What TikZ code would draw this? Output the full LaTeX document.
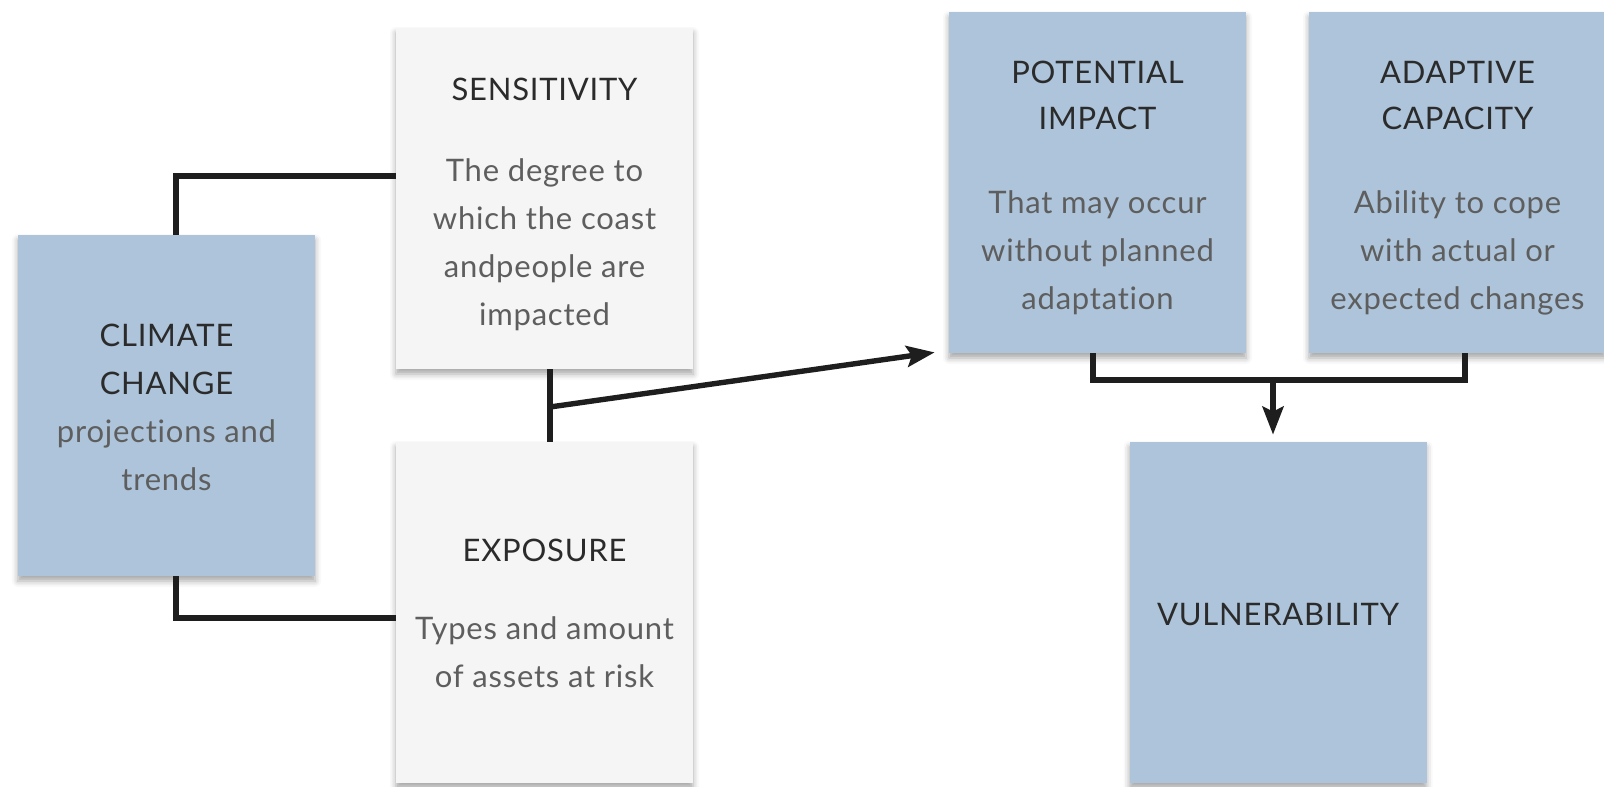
\documentclass[tikz,border=0pt]{standalone}
\usepackage{fontspec}
\setmainfont{Lato}[Ligatures=NoCommon, LetterSpace=2.5]
\usetikzlibrary{arrows.meta,calc,shadows.blur}
\definecolor{boxblue}{HTML}{ADC4DA}
\definecolor{boxgrey}{HTML}{F5F5F5}
\definecolor{ttlcol}{HTML}{2B2B2B}
\definecolor{txtcol}{HTML}{5E5E5E}
\definecolor{linecol}{HTML}{1E1E1E}
% heading text; the optional strut lowers a text block inside its card
\newcommand\hd[1]{\textcolor{ttlcol}{#1}}
\newcommand\lift[1]{\rule{0pt}{#1}}

\begin{document}
\begin{tikzpicture}[x=0.5pt,y=-0.5pt,
  card/.style={minimum width=148.5pt, minimum height=170.5pt, inner sep=0pt,
    align=center, text=txtcol, font=\fontsize{15.5}{24}\selectfont,
    blur shadow={shadow xshift=0pt, shadow yshift=-2.5pt,
      shadow blur radius=3pt, shadow opacity=35}},
  bluecard/.style={card, fill=boxblue},
  greycard/.style={card, fill=boxgrey},
  conn/.style={draw=linecol, line width=2.7pt},
  arr/.style={conn, -{Stealth[length=14pt,width=10.5pt,inset=2.5pt]}}]

\useasboundingbox (0,0) rectangle (1604,786);

% cards
\node[bluecard] (clim) at (166.5,405.5)
  {\lift{13.5pt}\hd{CLIMATE}\\\hd{CHANGE}\\projections and\\trends};
\node[greycard] (sens) at (544.5,198.5)
  {\lift{17pt}\hd{SENSITIVITY}\\[16.5pt]The degree to\\which the coast\\andpeople are\\impacted};
\node[greycard] (expo) at (544.5,612.5)
  {\lift{12pt}\hd{EXPOSURE}\\[15pt]Types and amount\\of assets at risk};
\node[bluecard] (pot) at (1097.5,182.5)
  {\lift{17pt}\hd{POTENTIAL}\\[-1pt]\hd{IMPACT}\\[18pt]That may occur\\without planned\\adaptation};
\node[bluecard] (adap) at (1457.5,182.5)
  {\lift{17pt}\hd{ADAPTIVE}\\[-1pt]\hd{CAPACITY}\\[18pt]Ability to cope\\with actual or\\expected changes};
\node[bluecard] (vuln) at (1278,612.5) {\lift{13pt}\hd{VULNERABILITY}};

% junction points of the connectors
\coordinate (j1) at (176,176);
\coordinate (j2) at (176,618);
\coordinate (j3) at (550,407);
\coordinate (k1) at (1093,380);
\coordinate (k2) at (1465,380);
\coordinate (k3) at (1273,380);

% climate change feeds sensitivity and exposure
\draw[conn] (clim.north -| j1) |- (sens.west |- j1);
\draw[conn] (clim.south -| j2) |- (expo.west |- j2);

% sensitivity + exposure lead to potential impact
\draw[conn] (sens.south -| j3) -- (expo.north -| j3);
\draw[arr] (j3) -- ($(pot.south west)+(-14,-1)$);

% potential impact + adaptive capacity lead to vulnerability
\draw[conn] (pot.south -| k1) -- (k1) -- (k2) -- (adap.south -| k2);
\draw[arr, shorten >=3.5pt] (k3) -- (vuln.north -| k3);
\end{tikzpicture}
\end{document}
